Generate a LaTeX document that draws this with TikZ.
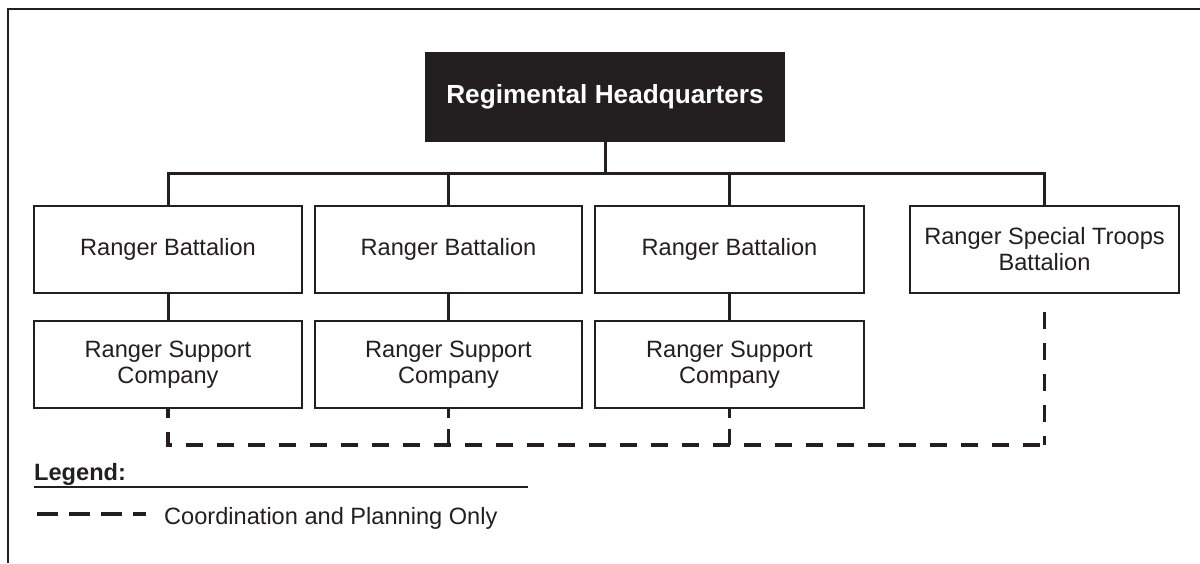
\documentclass[tikz,border=0pt]{standalone}
\usepackage{fontspec}
\setmainfont{Liberation Sans}
\definecolor{ink}{HTML}{231F20}
\begin{document}
\begin{tikzpicture}[x=1pt,y=-1pt,
  unitbox/.style={draw=ink,line width=1.8pt,fill=white,text=ink,align=center,
    font=\fontsize{23.6}{26}\selectfont,inner sep=0pt,minimum height=87pt},
  hqbox/.style={draw=ink,fill=ink,text=white,line width=1.5pt,
    font=\fontsize{26.2}{30}\selectfont\bfseries,inner sep=0pt,minimum width=358pt,minimum height=88pt},
  link/.style={draw=ink,line width=3pt},
  coord/.style={draw=ink,line width=3.4pt,dash pattern=on 17pt off 14pt},
  keydash/.style={draw=ink,line width=3.4pt,dash pattern=on 21pt off 11pt},
  legendtext/.style={text=ink,font=\fontsize{23.6}{26}\selectfont,inner sep=0pt,anchor=base west}
]
\useasboundingbox (0,0) rectangle (1200,563);
\fill[white] (0,0) rectangle (1200,563);
% frame
\draw[ink,line width=2.4pt] (8,563) -- (8,9) -- (1200,9);

\node[hqbox] (hq) at (605,97) {Regimental Headquarters};

\node[unitbox,minimum width=268pt] (b1) at (168,249.5) {Ranger Battalion};
\node[unitbox,minimum width=267pt] (b2) at (448.5,249.5) {Ranger Battalion};
\node[unitbox,minimum width=269pt] (b3) at (729.5,249.5) {Ranger Battalion};
\node[unitbox,minimum width=269pt] (b4) at (1044.5,249.5) {Ranger Special Troops\\Battalion};

\node[unitbox,minimum width=268pt] (s1) at (168,364.5) {Ranger Support\\Company};
\node[unitbox,minimum width=267pt] (s2) at (448.5,364.5) {Ranger Support\\Company};
\node[unitbox,minimum width=269pt] (s3) at (729.5,364.5) {Ranger Support\\Company};

\coordinate (bus) at (605,173);
\coordinate (dashy) at (605,445);

% solid command lines
\draw[link] (hq.south) -- (bus);
\draw[link,line cap=rect] (b1.north |- bus) -- (b4.north |- bus);
\draw[link] (b1.north |- bus) -- (b1.north);
\draw[link] (b2.north |- bus) -- (b2.north);
\draw[link] (b3.north |- bus) -- (b3.north);
\draw[link] (b4.north |- bus) -- (b4.north);
\draw[link] (b1.south) -- (s1.north);
\draw[link] (b2.south) -- (s2.north);
\draw[link] (b3.south) -- (s3.north);

% coordination lines
\draw[coord,dash phase=8pt] (s1.south) -- (s1.south |- dashy) -- (b4.south |- dashy);
\draw[coord,dash phase=8pt] (b4.south |- dashy) -- ([yshift=-12pt]b4.south);
\draw[coord,dash pattern=on 9pt off 11pt on 20pt off 5pt] (s2.south) -- (s2.south |- dashy);
\draw[coord,dash pattern=on 9pt off 11pt on 20pt off 5pt] (s3.south) -- (s3.south |- dashy);

% legend
\node[legendtext,font=\fontsize{23.6}{26}\selectfont\bfseries] (lg) at (34,480) {Legend:};
\coordinate (ulA) at (34,487);
\coordinate (ulB) at (528,487);
\draw[ink,line width=1.8pt] (ulA) -- (ulB);
\coordinate (keyA) at (37,514);
\coordinate (keyB) at (146,514);
\draw[keydash] (keyA) -- (keyB);
\node[legendtext] (lt) at (164,524) {Coordination and Planning Only};
\end{tikzpicture}
\end{document}
